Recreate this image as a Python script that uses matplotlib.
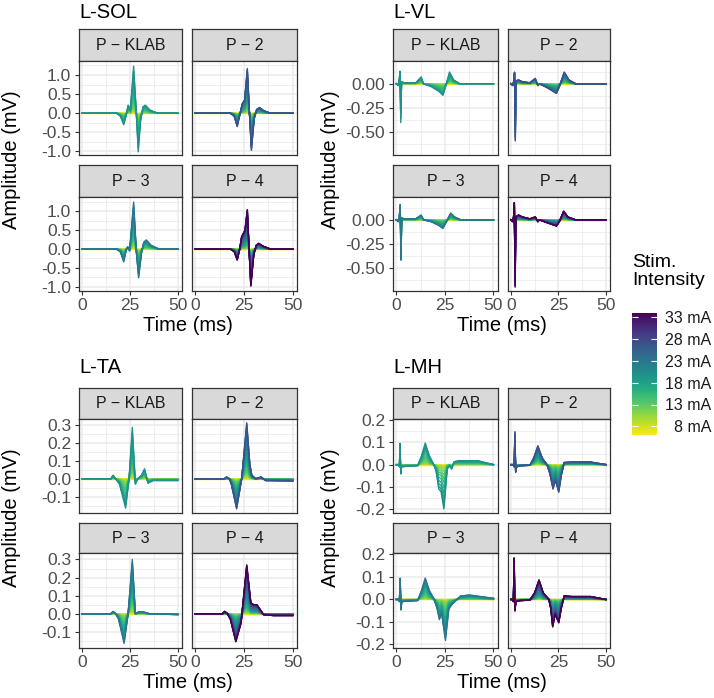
import numpy as np
import matplotlib.pyplot as plt
from matplotlib import colors, cm

plt.rcParams['font.family'] = ['Liberation Sans', 'DejaVu Sans']

# stimulation intensities (mA) per participant and relative response size at each
KLAB_MA = [6, 7, 8, 9, 10, 11, 12, 13, 14, 15, 16, 17, 18, 19, 20]
KLAB_FRAC = [0, 0.01, 0.02, 0.04, 0.07, 0.11, 0.16, 0.23, 0.31, 0.40, 0.52, 0.65, 0.78, 0.9, 1.0]
P2_MA = [6, 7, 8, 9, 10, 11, 12, 13, 14, 15, 16, 17, 18, 19, 20, 21, 22, 23, 24, 25, 26, 27]
P2_FRAC = [0, 0.01, 0.02, 0.03, 0.05, 0.07, 0.1, 0.13, 0.17, 0.22, 0.28, 0.34, 0.41, 0.48,
           0.56, 0.64, 0.72, 0.8, 0.87, 0.93, 0.97, 1.0]
P3_MA = [6, 7, 8, 9, 10, 11, 12, 13, 14, 15, 16, 17, 18, 19, 20, 21, 22, 23]
P3_FRAC = [0, 0.01, 0.02, 0.04, 0.06, 0.09, 0.13, 0.18, 0.24, 0.31, 0.39, 0.48, 0.58, 0.68,
           0.78, 0.87, 0.94, 1.0]
P4_MA = [6, 7, 8, 9, 10, 11, 12, 13, 14, 15, 16, 17, 18, 19, 20, 21, 22, 23, 24, 25, 26, 27,
         28, 29, 30, 31, 32, 33, 34]
P4_FRAC = [0, 0, 0.01, 0.02, 0.03, 0.04, 0.06, 0.08, 0.1, 0.13, 0.16, 0.2, 0.24, 0.29, 0.34,
           0.4, 0.46, 0.52, 0.58, 0.65, 0.71, 0.77, 0.83, 0.88, 0.92, 0.95, 0.97, 0.99, 1.0]

# waveform at the highest intensity (time ms, amplitude mV)
SOL_KLAB_T = [0, 18, 20, 21.7, 23, 24, 25.2, 26.9, 28.3, 29.3, 30.5, 31.8, 33, 35.5, 39.5, 50]
SOL_KLAB_V = [0, 0, -0.08, -0.30, -0.05, 0.21, 0.10, 1.23, 0.0, -1.01, -0.2, 0.17, 0.21, 0.08, 0, 0]
SOL_P2_T = [0, 18, 20, 21.5, 22.8, 24.1, 25.3, 26.7, 27.8, 28.8, 30.2, 31.5, 33, 35, 38.5, 50]
SOL_P2_V = [0, 0, -0.08, -0.35, -0.05, 0.25, 0.35, 1.17, 0.0, -0.97, -0.15, 0.10, 0.15, 0.07, 0, 0]
SOL_P3_T = [0, 18, 20, 21.7, 23, 23.8, 24.8, 26.9, 28.2, 29.5, 31, 32.2, 33.5, 36, 40, 50]
SOL_P3_V = [0, 0, -0.08, -0.34, -0.02, 0.06, -0.05, 1.24, 0.0, -0.76, -0.1, 0.18, 0.24, 0.1, 0, 0]
SOL_P4_T = [0, 18, 20, 21.5, 22.8, 23.8, 25.5, 26.7, 27.6, 28.5, 30, 31.3, 32.5, 35, 38.5, 50]
SOL_P4_V = [0, 0, -0.07, -0.29, 0.0, 0.33, 0.5, 1.04, 0.0, -0.98, -0.15, 0.10, 0.15, 0.07, 0, 0]

VL_KLAB_T = [0, 1.0, 1.4, 1.9, 2.3, 2.7, 4, 10, 12.8, 14, 18, 22, 24, 25.5, 27.4, 29.5, 32.5, 50]
VL_KLAB_V = [0, -0.02, 0.02, 0.13, -0.40, 0.02, 0.01, 0.01, 0.07, 0.0, -0.03, -0.08, -0.12,
             -0.02, 0.12, 0.04, 0, 0]
VL_P2_T = [0, 1.0, 1.5, 1.9, 2.3, 2.7, 4, 6, 10, 12.8, 14.2, 15, 19, 24, 25.5, 28.1, 30.5, 34, 50]
VL_P2_V = [0, -0.02, 0.03, 0.12, -0.59, 0.03, 0.04, 0.02, 0.01, 0.055, -0.02, 0.0, -0.04, -0.10,
           -0.03, 0.12, 0.04, 0, 0]
VL_P3_T = [0, 1.0, 1.5, 2.0, 2.4, 2.8, 4, 10, 12.8, 14, 18, 22, 24, 25.8, 28, 30, 33, 50]
VL_P3_V = [0, -0.02, 0.02, 0.16, -0.42, 0.02, 0.01, 0.01, 0.05, 0.0, -0.02, -0.06, -0.09,
           -0.02, 0.07, 0.03, 0, 0]
VL_P4_T = [0, 1.0, 1.4, 1.8, 2.2, 2.6, 4, 6, 10, 12.8, 14.2, 15, 19, 24, 25.5, 27.8, 30, 34, 50]
VL_P4_V = [0, -0.02, 0.03, 0.18, -0.70, 0.03, 0.05, 0.03, 0.01, 0.03, -0.02, 0.0, -0.03, -0.065,
           -0.02, 0.09, 0.03, 0, 0]

TA_KLAB_T = [0, 15, 16.1, 17.5, 19.5, 22.7, 24.5, 26.2, 27.8, 29, 31, 32.6, 34.4, 37, 50]
TA_KLAB_V = [0, 0, 0.02, 0.0, -0.03, -0.164, 0.0, 0.287, -0.03, 0.0, 0.02, 0.056, -0.025,
             -0.01, -0.01]
TA_P2_T = [0, 15, 16, 17.5, 18.5, 21.2, 23.8, 26.4, 28, 29, 31, 33.8, 36, 50]
TA_P2_V = [0, 0, 0.01, 0.0, -0.03, -0.168, 0.0, 0.313, 0.08, 0.02, 0.0, 0.01, -0.01, -0.012]
TA_P3_T = [0, 15, 16.1, 17.5, 19, 21.9, 24, 26.2, 27.8, 29.5, 32, 35, 50]
TA_P3_V = [0, 0, 0.013, 0.0, -0.03, -0.164, 0.0, 0.30, 0.0, 0.01, 0.01, 0.0, -0.005]
TA_P4_T = [0, 14, 15.1, 16.5, 18, 20.8, 23.5, 26.4, 28.5, 30, 31.6, 33.5, 35, 40, 50]
TA_P4_V = [0, 0, 0.013, 0.0, -0.03, -0.155, -0.05, 0.27, 0.06, 0.05, 0.05, 0.02, -0.005,
           -0.01, -0.01]

MH_KLAB_T = [0, 1.2, 1.6, 1.9, 2.3, 2.7, 5, 11, 13, 14.9, 17, 19.3, 20.5, 21.9, 23, 24.5,
             26.2, 27.4, 28.5, 29.7, 32, 42, 50]
MH_KLAB_V = [0, 0, -0.01, 0.096, -0.042, -0.01, -0.008, -0.005, 0.04, 0.097, 0.04, 0.0, -0.03,
             -0.11, -0.12, -0.199, -0.02, -0.005, -0.02, 0.013, 0.018, 0.018, 0.0]
MH_P2_T = [0, 1.2, 1.7, 2.1, 2.5, 3, 5, 10, 12, 14.2, 16.5, 19, 20.5, 22.2, 23.4, 25.2, 26.5,
           28.1, 32, 42, 50]
MH_P2_V = [0, 0, -0.01, 0.148, -0.034, -0.01, -0.005, -0.003, 0.03, 0.085, 0.03, 0.0, -0.04,
           -0.11, -0.07, -0.124, -0.05, 0.01, 0.012, 0.012, 0.0]
MH_P3_T = [0, 1.2, 1.6, 2.0, 2.4, 2.8, 5, 11, 13, 14.9, 17, 19.5, 21, 22.2, 23.3, 25.3, 27, 28,
           29.7, 33, 37.5, 50]
MH_P3_V = [0, 0, -0.01, 0.095, -0.047, -0.01, -0.008, -0.005, 0.04, 0.095, 0.04, 0.0, -0.04,
           -0.09, -0.06, -0.182, -0.044, -0.03, -0.013, 0.015, 0.02, 0.005]
MH_P4_T = [0, 1.0, 1.3, 1.7, 2.1, 2.6, 5, 10, 12.5, 14.8, 17, 20, 21, 22, 23.3, 25.2, 26.5,
           28.1, 32, 42, 50]
MH_P4_V = [0, 0, -0.01, 0.185, -0.051, -0.01, -0.005, -0.003, 0.03, 0.087, 0.03, 0.0, -0.04,
           -0.122, -0.066, -0.104, -0.04, 0.016, 0.013, 0.013, 0.0]

FACETS = ['P \u2212 KLAB', 'P \u2212 2', 'P \u2212 3', 'P \u2212 4']
LEVELS = [(KLAB_MA, KLAB_FRAC), (P2_MA, P2_FRAC), (P3_MA, P3_FRAC), (P4_MA, P4_FRAC)]

W, H = 714, 698
fig = plt.figure(figsize=(W / 100, H / 100), dpi=100)
norm = colors.Normalize(6, 34)
cmap = plt.get_cmap('viridis_r')


def px_axes(x0, y0, x1, y1):
    return fig.add_axes([x0 / W, 1 - y1 / H, (x1 - x0) / W, (y1 - y0) / H])


def draw_block(title, waves, cols, rows, ylim, yticks, ylabels, yminor, tx, ty):
    strips, panels = rows
    for k, (t, v) in enumerate(waves):
        r, c = divmod(k, 2)
        x0, x1 = cols[c]
        st = px_axes(x0, strips[r][0], x1, strips[r][1])
        st.set_facecolor('#D9D9D9')
        st.set_xticks([])
        st.set_yticks([])
        for s in st.spines.values():
            s.set_color('#333333')
            s.set_linewidth(0.9)
        st.text(0.5, 0.5, FACETS[k], ha='center', va='center', fontsize=11.5, color='#1A1A1A',
                transform=st.transAxes)

        ax = px_axes(x0, panels[r][0], x1, panels[r][1])
        ma, frac = LEVELS[k]
        for i, f in zip(ma, frac):
            ax.plot(t, np.array(v) * f, color=cmap(norm(i)), lw=1.0, solid_joinstyle='round')
        ax.set_xlim(-1.7, 52.2)
        ax.set_ylim(*ylim)
        ax.set_xticks([0, 25, 50])
        ax.set_xticks([12.5, 37.5], minor=True)
        ax.set_yticks(yticks)
        ax.set_yticks(yminor, minor=True)
        ax.grid(which='major', color='#EBEBEB', lw=1.1)
        ax.grid(which='minor', color='#EBEBEB', lw=0.55)
        ax.set_axisbelow(True)
        for s in ax.spines.values():
            s.set_color('#333333')
            s.set_linewidth(0.9)
        ax.tick_params(which='minor', length=0)
        ax.tick_params(which='major', length=3, color='#333333', labelsize=12.5,
                       labelcolor='#4D4D4D', pad=2.5)
        ax.tick_params(axis='x', pad=2)
        if c == 0:
            ax.set_yticklabels(ylabels)
        else:
            ax.tick_params(axis='y', length=0, labelleft=False)
        if r == 0:
            ax.tick_params(axis='x', length=0, labelbottom=False)
    fig.text(cols[0][0] / W, 1 - ty[0] / H, title, fontsize=14.5, va='center', ha='left')
    fig.text((cols[0][0] + cols[1][1]) / 2 / W, 1 - ty[1] / H, 'Time (ms)', fontsize=14.5,
             ha='center', va='center')
    fig.text(tx / W, 1 - (strips[0][0] + panels[1][1]) / 2 / H, 'Amplitude (mV)', fontsize=14.5,
             rotation=90, ha='center', va='center')


LEFT = [(79, 182), (192, 297)]
RIGHT = [(393, 497.7), (507.7, 610)]
TOP = ([(29.3, 61), (165.3, 197.3)], [(61, 155.3), (197.3, 290.7)])
BOTTOM = ([(388, 419), (523.3, 553.3)], [(419, 513), (553.3, 648.3)])

draw_block('L-SOL',
           [(SOL_KLAB_T, SOL_KLAB_V), (SOL_P2_T, SOL_P2_V), (SOL_P3_T, SOL_P3_V), (SOL_P4_T, SOL_P4_V)],
           LEFT, TOP, (-1.10, 1.365), [-1.0, -0.5, 0.0, 0.5, 1.0],
           ['-1.0', '-0.5', '0.0', '0.5', '1.0'], [-0.75, -0.25, 0.25, 0.75, 1.25], 12, (13, 325))
draw_block('L-VL',
           [(VL_KLAB_T, VL_KLAB_V), (VL_P2_T, VL_P2_V), (VL_P3_T, VL_P3_V), (VL_P4_T, VL_P4_V)],
           RIGHT, TOP, (-0.737, 0.234), [-0.5, -0.25, 0.0],
           ['-0.50', '-0.25', '0.00'], [-0.625, -0.375, -0.125, 0.125], 330, (13, 325))
draw_block('L-TA',
           [(TA_KLAB_T, TA_KLAB_V), (TA_P2_T, TA_P2_V), (TA_P3_T, TA_P3_V), (TA_P4_T, TA_P4_V)],
           LEFT, BOTTOM, (-0.191, 0.334), [-0.1, 0.0, 0.1, 0.2, 0.3],
           ['-0.1', '0.0', '0.1', '0.2', '0.3'], [-0.15, -0.05, 0.05, 0.15, 0.25], 12, (368, 683))
draw_block('L-MH',
           [(MH_KLAB_T, MH_KLAB_V), (MH_P2_T, MH_P2_V), (MH_P3_T, MH_P3_V), (MH_P4_T, MH_P4_V)],
           RIGHT, BOTTOM, (-0.217, 0.205), [-0.2, -0.1, 0.0, 0.1, 0.2],
           ['-0.2', '-0.1', '0.0', '0.1', '0.2'], [-0.15, -0.05, 0.05, 0.15], 330, (368, 683))

# colour bar
cax = px_axes(632, 313, 657, 435)
cb = fig.colorbar(cm.ScalarMappable(norm=norm, cmap=cmap), cax=cax)
cb.outline.set_visible(False)
cb.set_ticks([8, 13, 18, 23, 28, 33])
cb.set_ticklabels(['8 mA', '13 mA', '18 mA', '23 mA', '28 mA', '33 mA'])
cax.tick_params(direction='in', color='white', length=4, width=0.8, left=True, right=True,
                labelsize=11.5, labelcolor='#1A1A1A', pad=39)
for lbl in cax.get_yticklabels():
    lbl.set_ha('right')
fig.text(632 / W, 1 - 254 / H, 'Stim.\nIntensity', fontsize=14, ha='left', va='top',
         linespacing=1.05)

fig.savefig('out.png', dpi=100)
